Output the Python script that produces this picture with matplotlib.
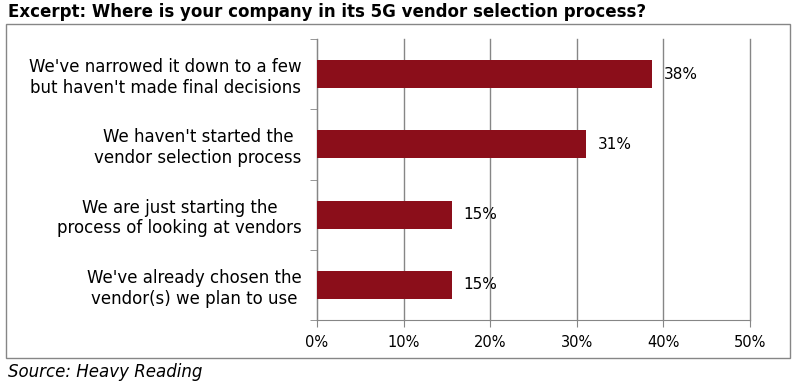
import matplotlib
matplotlib.use('Agg')
import matplotlib.pyplot as plt
from matplotlib.patches import Rectangle

# data, top to bottom
categories = ["We've narrowed it down to a few\nbut haven't made final decisions",
              "We haven't started the\nvendor selection process",
              "We are just starting the\nprocess of looking at vendors",
              "We've already chosen the\nvendor(s) we plan to use"]
values = [38.7, 31.1, 15.6, 15.6]
value_labels = ['38%', '31%', '15%', '15%']
xticks = [0, 10, 20, 30, 40, 50]

bar_color = '#8B0E1A'
grid_color = '#868686'

fig = plt.figure(figsize=(8.06, 3.87), dpi=100)
W, H = 806, 387
ax = fig.add_axes([317 / W, 1 - 320 / H, (750 - 317) / W, (320 - 39) / H])

ypos = list(range(len(categories)))
ax.barh(ypos, values, height=0.4, color=bar_color, zorder=3)
ax.set_ylim(len(categories) - 0.5, -0.5)
ax.set_xlim(0, 50)

for y, v, lab in zip(ypos, values, value_labels):
    ax.text(v + 1.3, y, lab, va='center', ha='left', fontsize=11, color='#000000', zorder=4)

ax.set_yticks(ypos)
ax.set_yticklabels(categories, fontsize=12, ha='right', multialignment='center', linespacing=1.2)
ax.tick_params(axis='y', length=0, pad=11)
ax.set_yticks([-0.5, 0.5, 1.5, 2.5, 3.5], minor=True)
ax.tick_params(axis='y', which='minor', length=5, color=grid_color, direction='out')

ax.set_xticks(xticks)
ax.set_xticklabels([f'{t}%' for t in xticks], fontsize=10.5)
ax.tick_params(axis='x', length=5, color=grid_color, pad=6)

ax.xaxis.grid(True, color=grid_color, linewidth=1, zorder=0)
for gl in ax.get_xgridlines():
    gl.set_clip_on(False)
for s in ['top', 'right']:
    ax.spines[s].set_visible(False)
for s in ['left', 'bottom']:
    ax.spines[s].set_color(grid_color)

# outer frame
fig.patches.append(Rectangle((6 / W, 1 - 358 / H), (790 - 6) / W, (358 - 24) / H,
                             transform=fig.transFigure, fill=False,
                             edgecolor=grid_color, linewidth=1))

fig.text(8 / W, 1 - 12 / H, 'Excerpt: Where is your company in its 5G vendor selection process?',
         fontsize=12, fontweight='bold', va='center', ha='left')
fig.text(8 / W, 1 - 372 / H, 'Source: Heavy Reading', fontsize=12, style='italic',
         va='center', ha='left')

fig.savefig('out.png', dpi=100)
